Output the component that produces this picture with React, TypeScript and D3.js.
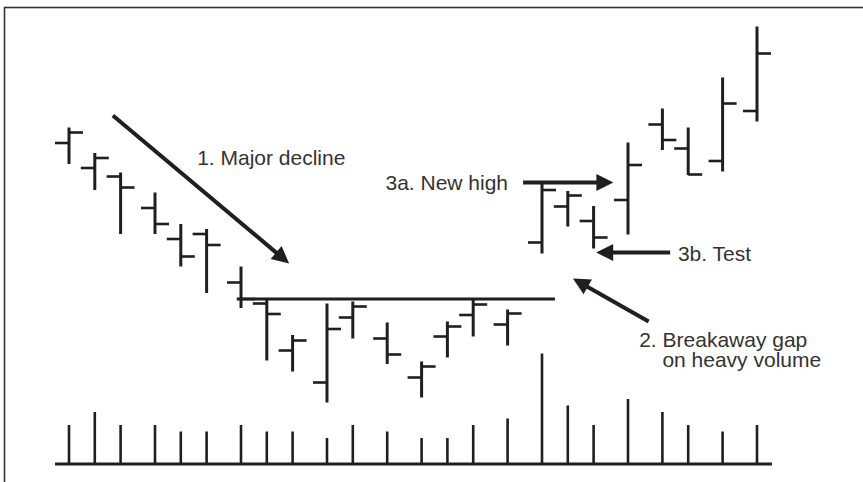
import React, { useEffect, useRef } from "react";
import * as d3 from "d3";

// trading sessions (day number), OHLC prices and volume
const sessionDay = [0, 3, 6, 10, 13, 16, 20, 23, 26, 30, 33, 37, 41, 44, 47, 51, 55, 58, 61, 65, 69, 72, 76, 80];
const opens = [81.4, 76.4, 74.7, 68.4, 62.2, 63.2, 53.5, 49.3, 39.9, 33.5, 46.5, 42.3, 34.5, 42.7, 47.0, 45.1, 61.5, 68.7, 65.8, 70.0, 85.1, 80.3, 77.8, 87.8];
const highs = [84.5, 79.4, 75.5, 71.5, 65.2, 64.2, 56.7, 50.0, 43.0, 49.3, 49.7, 45.5, 37.7, 45.7, 50.3, 48.1, 73.7, 71.8, 68.8, 81.5, 88.3, 84.5, 94.5, 104.7];
const lows = [77.2, 72.0, 63.2, 63.2, 56.7, 51.4, 48.4, 37.9, 35.7, 29.5, 42.3, 37.2, 30.5, 38.5, 42.7, 40.9, 59.3, 64.7, 60.3, 63.1, 80.0, 75.0, 75.7, 85.7];
const closes = [83.5, 78.4, 72.5, 65.2, 58.7, 61.0, 50.2, 47.2, 41.9, 44.2, 48.7, 39.1, 36.7, 44.7, 49.1, 47.3, 72.0, 70.9, 62.5, 77.0, 82.0, 75.1, 89.3, 99.3];
const volumes = [6, 8, 6, 6, 5, 5, 6, 5, 5, 4, 6, 5, 4, 4, 6, 7, 17, 9, 6, 10, 8, 6, 5, 6];

// resistance line from the end of the decline to the gap
const resistance = 50.2;
const resistanceDays = [19.5, 56.5];

// annotations in (day, price) space
const noteText = ["1. Major decline", "3a. New high", "3b. Test", "2. Breakaway gap", "on heavy volume"];
const noteDay = [14.9, 36.8, 70.8, 66.3, 69.0];
const notePrice = [77, 72.1, 57.9, 40.7, 36.6];

const arrowFrom = [[5.1, 86.9], [52.8, 73.5], [69.9, 59.5], [67.4, 45.7]];
const arrowTo = [[25.6, 57.3], [63.3, 73.5], [61.3, 59.5], [58.6, 54.3]];

const W = 863;
const H = 482;
const INK = "#1f1f1f";

const App = () => {
  const chart = useRef<SVGSVGElement>(null);

  useEffect(() => {
    const svg = d3.select(chart.current);
    svg.selectAll("*").remove();

    const x = d3.scaleLinear().domain([0, 80]).range([69, 757]);
    const y = d3.scaleLinear().domain([20, 110]).range([450, 0]);
    const vy = d3.scaleLinear().domain([0, 17]).range([464, 353.5]);

    const bars = sessionDay.map((d, i) => ({
      d,
      o: opens[i],
      h: highs[i],
      l: lows[i],
      c: closes[i],
      v: volumes[i],
    }));

    svg.append("rect").attr("width", W).attr("height", H).attr("fill", "#fff");

    // frame (open on the right and bottom, like the scan)
    svg
      .append("rect")
      .attr("x", 4.5)
      .attr("y", 7.5)
      .attr("width", W + 20)
      .attr("height", H + 20)
      .attr("fill", "none")
      .attr("stroke", "#333")
      .attr("stroke-width", 1.6);

    const price = svg.append("g").attr("stroke", INK).attr("stroke-linecap", "butt");

    price
      .selectAll("line.hl")
      .data(bars)
      .join("line")
      .attr("class", "hl")
      .attr("x1", (b) => x(b.d))
      .attr("x2", (b) => x(b.d))
      .attr("y1", (b) => y(b.h))
      .attr("y2", (b) => y(b.l))
      .attr("stroke-width", 3);

    price
      .selectAll("line.open")
      .data(bars)
      .join("line")
      .attr("class", "open")
      .attr("x1", (b) => x(b.d) - 14)
      .attr("x2", (b) => x(b.d))
      .attr("y1", (b) => y(b.o))
      .attr("y2", (b) => y(b.o))
      .attr("stroke-width", 2.6);

    price
      .selectAll("line.close")
      .data(bars)
      .join("line")
      .attr("class", "close")
      .attr("x1", (b) => x(b.d))
      .attr("x2", (b) => x(b.d) + 14)
      .attr("y1", (b) => y(b.c))
      .attr("y2", (b) => y(b.c))
      .attr("stroke-width", 2.6);

    // resistance
    svg
      .append("line")
      .attr("x1", x(resistanceDays[0]))
      .attr("x2", x(resistanceDays[1]))
      .attr("y1", y(resistance))
      .attr("y2", y(resistance))
      .attr("stroke", INK)
      .attr("stroke-width", 3.2);

    // volume
    const vol = svg.append("g").attr("stroke", INK);
    vol
      .selectAll("line")
      .data(bars)
      .join("line")
      .attr("x1", (b) => x(b.d))
      .attr("x2", (b) => x(b.d))
      .attr("y1", vy(0))
      .attr("y2", (b) => vy(b.v))
      .attr("stroke-width", 2.6);

    vol
      .append("line")
      .attr("x1", x(sessionDay[0]) - 14)
      .attr("x2", x(sessionDay[sessionDay.length - 1]) + 15)
      .attr("y1", vy(0))
      .attr("y2", vy(0))
      .attr("stroke-width", 3.2);

    // arrows
    const headLen = 17;
    const headHalf = 8.5;
    const arrows = svg.append("g");
    arrowFrom.forEach((from, i) => {
      const to = arrowTo[i];
      const x0 = x(from[0]);
      const y0 = y(from[1]);
      const x1 = x(to[0]);
      const y1 = y(to[1]);
      const len = Math.hypot(x1 - x0, y1 - y0);
      const ux = (x1 - x0) / len;
      const uy = (y1 - y0) / len;
      const bx = x1 - ux * headLen;
      const by = y1 - uy * headLen;
      arrows
        .append("line")
        .attr("x1", x0)
        .attr("y1", y0)
        .attr("x2", bx + ux * 2)
        .attr("y2", by + uy * 2)
        .attr("stroke", INK)
        .attr("stroke-width", 4);
      arrows
        .append("path")
        .attr(
          "d",
          `M${x1},${y1}L${bx - uy * headHalf},${by + ux * headHalf}L${bx + uy * headHalf},${by - ux * headHalf}Z`
        )
        .attr("fill", INK);
    });

    svg
      .append("g")
      .selectAll("text")
      .data(noteText)
      .join("text")
      .attr("x", (_, i) => x(noteDay[i]))
      .attr("y", (_, i) => y(notePrice[i]))
      .attr("font-family", "'Liberation Sans', Arial, sans-serif")
      .attr("font-size", 21)
      .attr("fill", "#333")
      .text((t) => t);
  });

  return (
    <div style={{ position: "absolute", left: 0, top: 0 }}>
      <svg ref={chart} width={W} height={H} style={{ display: "block" }}></svg>
    </div>
  );
};

export default App;
